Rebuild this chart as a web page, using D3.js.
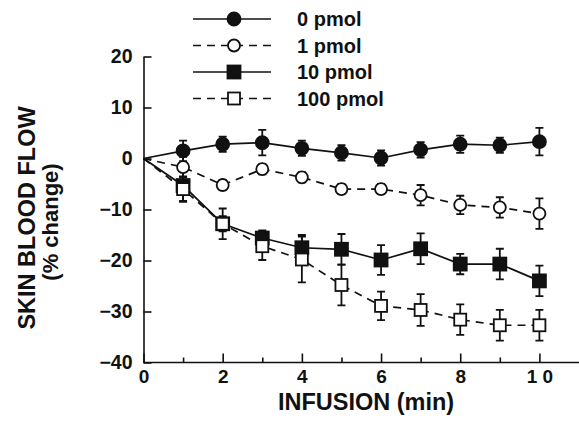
<!DOCTYPE html>
<html>
<head>
<meta charset="utf-8">
<script src="https://cdn.jsdelivr.net/npm/d3@7"></script>
<style>
  body { margin: 0; background: #fff; }
  svg { display: block; }
  text { font-family: "Liberation Sans", Arial, Helvetica, sans-serif; font-weight: bold; fill: #111; }
  .axis path, .axis line { stroke: #111; stroke-width: 1.6; }
</style>
</head>
<body>
<script>
var width = 579,
    height = 426

// infusion time (min)
var minutes = [0, 1, 2, 3, 4, 5, 6, 7, 8, 9, 10];

// mean % change and SEM for each dose
var dose0 = [0, 1.5, 2.8, 3.1, 2.0, 1.1, 0.1, 1.7, 2.8, 2.6, 3.3];
var dose0Err = [0, 2, 1.5, 2.5, 1.5, 1.5, 1.5, 1.5, 1.7, 1.5, 2.7];
var dose1 = [0, -1.7, -5.2, -2.1, -3.7, -6.0, -6.0, -7.2, -9.1, -9.6, -10.8];
var dose1Err = [0, 2, 1, 1, 1, 1, 1, 2, 1.8, 2, 3];
var dose10 = [0, -5.3, -12.8, -15.6, -17.5, -17.8, -19.9, -17.7, -20.7, -20.7, -24.0];
var dose10Err = [0, 3, 1.5, 1.5, 2.5, 3, 2.9, 3, 2, 3, 3];
var dose100 = [0, -6.0, -12.8, -17.2, -19.8, -24.8, -28.9, -29.7, -31.6, -32.7, -32.7];
var dose100Err = [0, 2.5, 3, 2.7, 4.5, 4, 2.8, 3.1, 3, 3, 3];

var legendLabels = ["0 pmol", "1 pmol", "10 pmol", "100 pmol"];
var yTicks = [20, 10, 0, -10, -20, -30, -40];
var xTicks = [0, 1, 2, 3, 4, 5, 6, 7, 8, 9, 10];

var series = [
  { name: legendLabels[0], values: dose0, err: dose0Err, shape: "circle", filled: true, dash: null },
  { name: legendLabels[1], values: dose1, err: dose1Err, shape: "circle", filled: false, dash: "8,6" },
  { name: legendLabels[2], values: dose10, err: dose10Err, shape: "square", filled: true, dash: null },
  { name: legendLabels[3], values: dose100, err: dose100Err, shape: "square", filled: false, dash: "8,6" }
];

var svg = d3.select("body").append("svg")
    .attr("width", width)
    .attr("height", height);

var x = d3.scaleLinear().domain([0, 11]).range([143.5, 579]);
var y = d3.scaleLinear().domain([-40, 20]).range([362.5, 56.5]);

// axes, ticks point inward
var xAxis = svg.append("g")
    .attr("class", "axis")
    .attr("transform", "translate(0," + y(-40) + ")")
    .call(d3.axisBottom(x)
      .tickValues(xTicks)
      .tickSizeInner(-9)
      .tickSizeOuter(0)
      .tickPadding(7)
      .tickFormat(function(d) { return d % 2 ? "" : (d == 10 ? "1 0" : d); }));
xAxis.select(".domain").attr("d", "M" + x(0) + ",0H" + width);
xAxis.selectAll(".tick line")
    .attr("y2", function(d) { return d % 2 ? -5 : -9; });
xAxis.selectAll(".tick text").style("font-size", "19px");

var yAxis = svg.append("g")
    .attr("class", "axis")
    .attr("transform", "translate(" + x(0) + ",0)")
    .call(d3.axisLeft(y)
      .tickValues(yTicks)
      .tickSizeInner(-8)
      .tickSizeOuter(0)
      .tickPadding(11));
yAxis.selectAll(".tick text").style("font-size", "19.5px");

svg.append("text")
    .attr("x", 366)
    .attr("y", 410)
    .attr("text-anchor", "middle")
    .style("font-size", "23.5px")
    .text("INFUSION (min)");

svg.append("text")
    .attr("transform", "translate(35,218) rotate(-90)")
    .attr("text-anchor", "middle")
    .style("font-size", "23.5px")
    .text("SKIN BLOOD FLOW");
svg.append("text")
    .attr("transform", "translate(58,222) rotate(-90)")
    .attr("text-anchor", "middle")
    .style("font-size", "22px")
    .text("(% change)");

function drawMarker(g, s) {
  if (s.shape == "circle") {
    g.append("circle").attr("r", s.filled ? 6.5 : 6);
  } else {
    var h = s.filled ? 6.5 : 6;
    g.append("rect").attr("x", -h).attr("y", -h).attr("width", 2 * h).attr("height", 2 * h);
  }
  g.selectAll("circle, rect")
      .attr("fill", s.filled ? "#111" : "#fff")
      .attr("stroke", "#111")
      .attr("stroke-width", 1.8);
}

var line = d3.line()
    .x(function(d, i) { return x(minutes[i]); })
    .y(function(d) { return y(d); });

// draw in back-to-front order
[2, 3, 1, 0].forEach(function(k) {
  var s = series[k];
  var g = svg.append("g");

  g.append("path")
      .datum(s.values)
      .attr("d", line)
      .attr("fill", "none")
      .attr("stroke", "#111")
      .attr("stroke-width", 1.7)
      .attr("stroke-dasharray", s.dash);

  var pts = g.selectAll(".pt")
      .data(s.values)
    .enter().append("g")
      .attr("class", "pt")
      .attr("transform", function(d, i) { return "translate(" + x(minutes[i]) + "," + y(d) + ")"; })
      .filter(function(d, i) { return i > 0; });

  pts.each(function(d, i) {
    var e = s.err[i + 1];
    var el = d3.select(this);
    var top = y(d + e) - y(d), bot = y(d - e) - y(d);
    el.append("path")
        .attr("d", "M0," + top + "V" + bot + "M-4," + top + "H4M-4," + bot + "H4")
        .attr("stroke", "#111")
        .attr("stroke-width", 1.8)
        .attr("fill", "none");
    drawMarker(el, s);
  });
});

// legend
var legend = svg.selectAll(".legend")
    .data(series)
  .enter().append("g")
    .attr("class", "legend")
    .attr("transform", function(d, i) { return "translate(0," + (19 + i * 26.5) + ")"; });

legend.append("line")
    .attr("x1", 193)
    .attr("x2", 271)
    .attr("stroke", "#111")
    .attr("stroke-width", 1.7)
    .attr("stroke-dasharray", function(d) { return d.dash; });

legend.each(function(d) {
  var g = d3.select(this).append("g").attr("transform", "translate(234,0)");
  drawMarker(g, d);
});

legend.append("text")
    .attr("x", 297)
    .attr("dy", "0.35em")
    .style("font-size", "20px")
    .text(function(d) { return d.name; });
</script>
</body>
</html>
